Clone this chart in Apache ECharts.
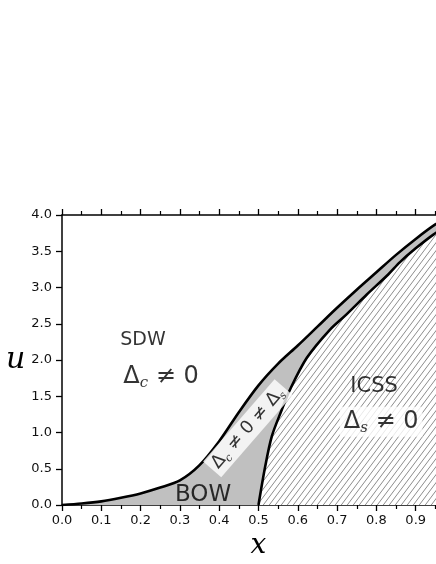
<!DOCTYPE html>
<html>
<head>
<meta charset="utf-8">
<script src="https://cdn.jsdelivr.net/npm/echarts@6/dist/echarts.min.js"></script>
<style>
  html, body { margin: 0; padding: 0; background: #fff; }
  #main { width: 436px; height: 564px; }
</style>
</head>
<body>
<div id="main"></div>
<script>
// upper phase boundary (SDW / BOW+mixed)
const upperX = [0, 0.05, 0.1, 0.15, 0.2, 0.25, 0.3, 0.35, 0.4, 0.45, 0.5, 0.55, 0.6, 0.65, 0.7, 0.75, 0.8, 0.85, 0.9, 0.95, 1.0];
const upperU = [0, 0.02, 0.05, 0.1, 0.16, 0.24, 0.34, 0.55, 0.88, 1.28, 1.65, 1.95, 2.2, 2.46, 2.72, 2.97, 3.21, 3.45, 3.67, 3.87, 4.03];
// lower boundary (ICSS)
const lowerX = [0.5, 0.517, 0.534, 0.559, 0.58, 0.623, 0.682, 0.724, 0.775, 0.83, 0.86, 0.9, 0.945, 1.0];
const lowerU = [0, 0.53, 0.95, 1.31, 1.59, 2.03, 2.42, 2.63, 2.9, 3.18, 3.35, 3.54, 3.73, 3.92];

const xTicks = [0, 0.1, 0.2, 0.3, 0.4, 0.5, 0.6, 0.7, 0.8, 0.9, 1.0];
const yTicks = [0, 0.5, 1.0, 1.5, 2.0, 2.5, 3.0, 3.5, 4.0];

// text labels: [x, u, text, rotate]
const notes = [
  [0.206, 2.28, '{t|SDW}', 0],
  [0.252, 1.77, '{d|Δ}{s|c}{d| ≠ 0}', 0],
  [0.794, 1.63, '{i|ICSS}', 0],
  [0.359, 0.14, '{b|BOW}', 0]
];
const boxNotes = [
  [0.812, 1.15, '{d|Δ}{s|s}{d| ≠ 0}', 0],
  [0.473, 1.06, '{m|Δ}{ms|c}{m| ≠ 0 ≠ Δ}{ms|s}', 49]
];

function zip(a, b) { return a.map((v, i) => [v, b[i]]); }

// hatch pattern
const pat = document.createElement('canvas');
pat.width = 6; pat.height = 8;
const pc = pat.getContext('2d');
pc.fillStyle = '#fff';
pc.fillRect(0, 0, 6, 8);
pc.strokeStyle = '#8c8c8c';
pc.lineWidth = 1;
[-6, 0, 6].forEach(o => {
  pc.beginPath();
  pc.moveTo(o, 8);
  pc.lineTo(o + 6, 0);
  pc.stroke();
});

const txt = { color: '#000', textBorderWidth: 0, textBorderColor: 'transparent' };
const rich = {
  t: Object.assign({ fontSize: 19, fontFamily: 'DejaVu Sans' }, txt),
  i: Object.assign({ fontSize: 21, fontFamily: 'DejaVu Sans' }, txt),
  b: Object.assign({ fontSize: 23, fontFamily: 'DejaVu Sans' }, txt),
  d: Object.assign({ fontSize: 24, fontFamily: 'DejaVu Sans', lineHeight: 28, verticalAlign: 'middle' }, txt),
  s: Object.assign({ fontSize: 15, fontFamily: 'DejaVu Serif', fontStyle: 'italic', lineHeight: 28, verticalAlign: 'bottom' }, txt),
  m: Object.assign({ fontSize: 18, fontFamily: 'DejaVu Sans', lineHeight: 22, verticalAlign: 'middle' }, txt),
  ms: Object.assign({ fontSize: 11, fontFamily: 'DejaVu Serif', fontStyle: 'italic', lineHeight: 22, verticalAlign: 'bottom' }, txt)
};

const axisCommon = {
  axisLine: { lineStyle: { color: '#000', width: 1.5 } },
  axisTick: { lineStyle: { color: '#000', width: 1.3 }, length: 6 },
  splitLine: { show: false }
};

const chart = echarts.init(document.getElementById('main'));
chart.setOption({
  animation: false,
  grid: { left: 62, right: -19, top: 215, bottom: 59, outerBoundsMode: 'none', containLabel: false },
  xAxis: [
    Object.assign({
      type: 'value', min: 0, max: 1, interval: 0.1, position: 'bottom',
      name: 'x', nameLocation: 'middle', nameGap: 3,
      nameTextStyle: { fontFamily: 'DejaVu Serif', fontStyle: 'italic', fontSize: 28, color: '#000' },
      minorTick: { show: true, splitNumber: 2, length: 4, lineStyle: { color: '#000', width: 1.2 } },
      minorSplitLine: { show: false },
      axisLabel: {
        fontSize: 13, fontFamily: 'DejaVu Sans', color: '#111', margin: 9,
        formatter: v => (xTicks.some(t => Math.abs(t - v) < 1e-6) ? v.toFixed(1) : '')
      }
    }, axisCommon),
    Object.assign({
      type: 'value', min: 0, max: 1, interval: 0.1, position: 'top',
      minorTick: { show: true, splitNumber: 2, length: 4, lineStyle: { color: '#000', width: 1.2 } },
      minorSplitLine: { show: false },
      axisLabel: { show: false }
    }, axisCommon)
  ],
  yAxis: Object.assign({
    type: 'value', min: 0, max: 4, interval: 0.5,
    name: 'u', nameLocation: 'middle', nameRotate: 0, nameGap: 36,
    nameTextStyle: { fontFamily: 'DejaVu Serif', fontStyle: 'italic', fontSize: 30, color: '#000' },
    axisLabel: {
      fontSize: 13, fontFamily: 'DejaVu Sans', color: '#111', margin: 10,
      formatter: v => (yTicks.some(t => Math.abs(t - v) < 1e-6) ? v.toFixed(1) : '')
    }
  }, axisCommon),
  series: [
    {
      type: 'line', data: zip(upperX, upperU), smooth: 0.3, showSymbol: false, z: 2,
      lineStyle: { color: '#000', width: 2.6 },
      areaStyle: { color: '#c0c0c0', opacity: 1 }
    },
    {
      type: 'line', data: zip(lowerX, lowerU), smooth: 0.3, showSymbol: false, z: 3,
      lineStyle: { color: '#000', width: 2.6 },
      areaStyle: { color: { image: pat, repeat: 'repeat' }, opacity: 1 }
    },
    {
      type: 'scatter', symbolSize: 0, z: 5, silent: true,
      itemStyle: { color: '#000' },
      data: notes.map(n => ({ value: [n[0], n[1]], label: { formatter: n[2], rotate: n[3] } })),
      label: Object.assign({ show: true, position: 'inside', rich: rich }, txt)
    },
    {
      type: 'scatter', symbolSize: 0, z: 6, silent: true,
      itemStyle: { color: '#000' },
      data: boxNotes.map(n => ({ value: [n[0], n[1]], label: { formatter: n[2], rotate: n[3] } })),
      label: Object.assign({ show: true, position: 'inside', rich: rich, backgroundColor: '#ffffff', padding: [1, 4] }, txt)
    }
  ]
});
</script>
</body>
</html>
